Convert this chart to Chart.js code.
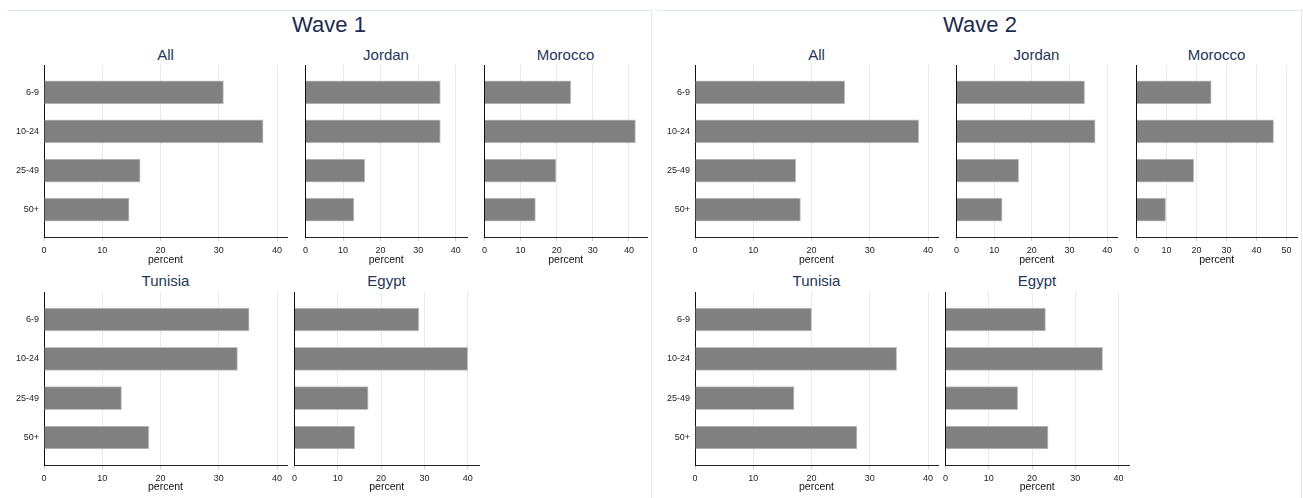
<!DOCTYPE html>
<html lang="en">
  <head>
    <meta charset="UTF-8" />
    <title>Wave 1 / Wave 2 by age group</title>
    <script src="https://cdn.jsdelivr.net/npm/chart.js"></script>
    <style>
      body {
        margin: 0;
        width: 1303px;
        height: 498px;
        background: #fff;
        position: relative;
        overflow: hidden;
        font-family: Arial, "Liberation Sans", sans-serif;
      }
      .panel {
        position: absolute;
        top: 10px;
        height: 488px;
        box-sizing: border-box;
        border-top: 1px solid #e2ebeb;
        border-right: 1px solid #e2ebeb;
      }
      .wave-title {
        position: absolute;
        top: 14px;
        width: 200px;
        font-size: 22px;
        line-height: 22px;
        color: #1c2b4f;
        text-align: center;
      }
      .sub-title {
        position: absolute;
        width: 160px;
        font-size: 15px;
        line-height: 15px;
        color: #24365a;
        text-align: center;
      }
      canvas {
        position: absolute;
      }
    </style>
  </head>
  <body>
    <div class="panel" style="left: 7px; width: 645px"></div>
    <div class="panel" style="left: 658px; width: 644px"></div>
    <div class="wave-title" style="left: 229px">Wave 1</div>
    <div class="wave-title" style="left: 880px">Wave 2</div>

    <script>
      // categories and tick labels
      const ageGroups = ["6-9", "10-24", "25-49", "50+"];
      const xTicks = [0, 10, 20, 30, 40, 50];

      // Wave 1, percent
      const wave1All = [30.8, 37.6, 16.5, 14.6];
      const wave1Jordan = [35.9, 35.9, 15.8, 12.9];
      const wave1Morocco = [23.9, 41.8, 19.8, 14.1];
      const wave1Tunisia = [35.2, 33.2, 13.3, 18.0];
      const wave1Egypt = [28.7, 40.0, 17.0, 13.9];

      // Wave 2, percent
      const wave2All = [25.7, 38.4, 17.3, 18.1];
      const wave2Jordan = [34.0, 36.8, 16.5, 12.1];
      const wave2Morocco = [24.9, 45.7, 19.1, 9.7];
      const wave2Tunisia = [20.0, 34.6, 17.0, 27.8];
      const wave2Egypt = [23.1, 36.3, 16.7, 23.7];

      Chart.defaults.font.family = 'Arial, "Liberation Sans", sans-serif';

      // plot boxes (pixels) for each small chart
      const panels = [
        { title: "All", values: wave1All, x0: 44, x1: 287, row: 0, xMax: 41.7, labels: true },
        { title: "Jordan", values: wave1Jordan, x0: 305, x1: 467, row: 0, xMax: 43.0 },
        { title: "Morocco", values: wave1Morocco, x0: 484, x1: 647, row: 0, xMax: 45.0 },
        { title: "Tunisia", values: wave1Tunisia, x0: 44, x1: 287, row: 1, xMax: 41.7, labels: true },
        { title: "Egypt", values: wave1Egypt, x0: 294, x1: 479, row: 1, xMax: 42.6 },
        { title: "All", values: wave2All, x0: 695, x1: 938, row: 0, xMax: 41.7, labels: true },
        { title: "Jordan", values: wave2Jordan, x0: 956, x1: 1117, row: 0, xMax: 42.6 },
        { title: "Morocco", values: wave2Morocco, x0: 1136, x1: 1297, row: 0, xMax: 53.5 },
        { title: "Tunisia", values: wave2Tunisia, x0: 695, x1: 938, row: 1, xMax: 41.7, labels: true },
        { title: "Egypt", values: wave2Egypt, x0: 945, x1: 1129, row: 1, xMax: 42.4 },
      ];

      const rows = [
        { top: 65, bottom: 237, titleTop: 47, padB: 29 },
        { top: 292, bottom: 465, titleTop: 273, padB: 28 },
      ];

      function drawPanel(p) {
        const row = rows[p.row];
        const padL = p.labels ? 44 : 6;
        const padR = 8;
        const padT = 14; // must exceed the y axis label overhang
        const padB = row.padB;

        // subplot title
        const t = document.createElement("div");
        t.className = "sub-title";
        t.textContent = p.title;
        t.style.left = (p.x0 + p.x1) / 2 - 80 + "px";
        t.style.top = row.titleTop + "px";
        document.body.appendChild(t);

        const canvas = document.createElement("canvas");
        canvas.width = p.x1 - p.x0 + padL + padR;
        canvas.height = row.bottom - row.top + padT + padB;
        canvas.style.left = p.x0 - padL + "px";
        canvas.style.top = row.top - padT + "px";
        document.body.appendChild(canvas);

        new Chart(canvas, {
          type: "bar",
          data: {
            datasets: [
              {
                data: p.values.map((v, i) => ({ x: v, y: i + 1 })),
                backgroundColor: "#808080",
                borderColor: "#c2c2c2",
                borderWidth: 1,
                barThickness: 23,
              },
            ],
          },
          options: {
            indexAxis: "y",
            responsive: false,
            animation: false,
            events: [],
            layout: { padding: { top: padT, right: padR, left: 0, bottom: 0 } },
            plugins: {
              legend: { display: false },
              tooltip: { enabled: false },
            },
            scales: {
              x: {
                type: "linear",
                min: 0,
                max: p.xMax,
                afterBuildTicks: (s) => {
                  s.ticks = xTicks.filter((v) => v <= s.max).map((v) => ({ value: v }));
                },
                afterFit: (s) => {
                  s.height = padB;
                },
                ticks: {
                  font: { size: 9 },
                  color: "#222",
                  padding: 4,
                  maxRotation: 0,
                },
                grid: {
                  color: (c) => (c.tick && c.tick.value === 0 ? "rgba(0,0,0,0)" : "#e4eded"),
                  tickColor: "#cfcfcf",
                  tickLength: 4,
                },
                border: { color: "#222", width: 1 },
                title: {
                  display: true,
                  text: "percent",
                  font: { size: 10.5 },
                  color: "#111",
                  padding: 0,
                },
              },
              y: {
                type: "linear",
                offset: false,
                reverse: true,
                min: 0.3,
                max: 4.7,
                afterBuildTicks: (s) => {
                  s.ticks = ageGroups.map((g, i) => ({ value: i + 1 }));
                },
                afterFit: (s) => {
                  s.width = padL;
                },
                ticks: {
                  display: !!p.labels,
                  callback: (v) => ageGroups[v - 1],
                  font: { size: 9 },
                  color: "#222",
                  padding: 5,
                },
                grid: { display: false, drawTicks: false, offset: false },
                border: { color: "#111", width: 1 },
              },
            },
          },
        });
      }

      panels.forEach(drawPanel);
    </script>
  </body>
</html>
